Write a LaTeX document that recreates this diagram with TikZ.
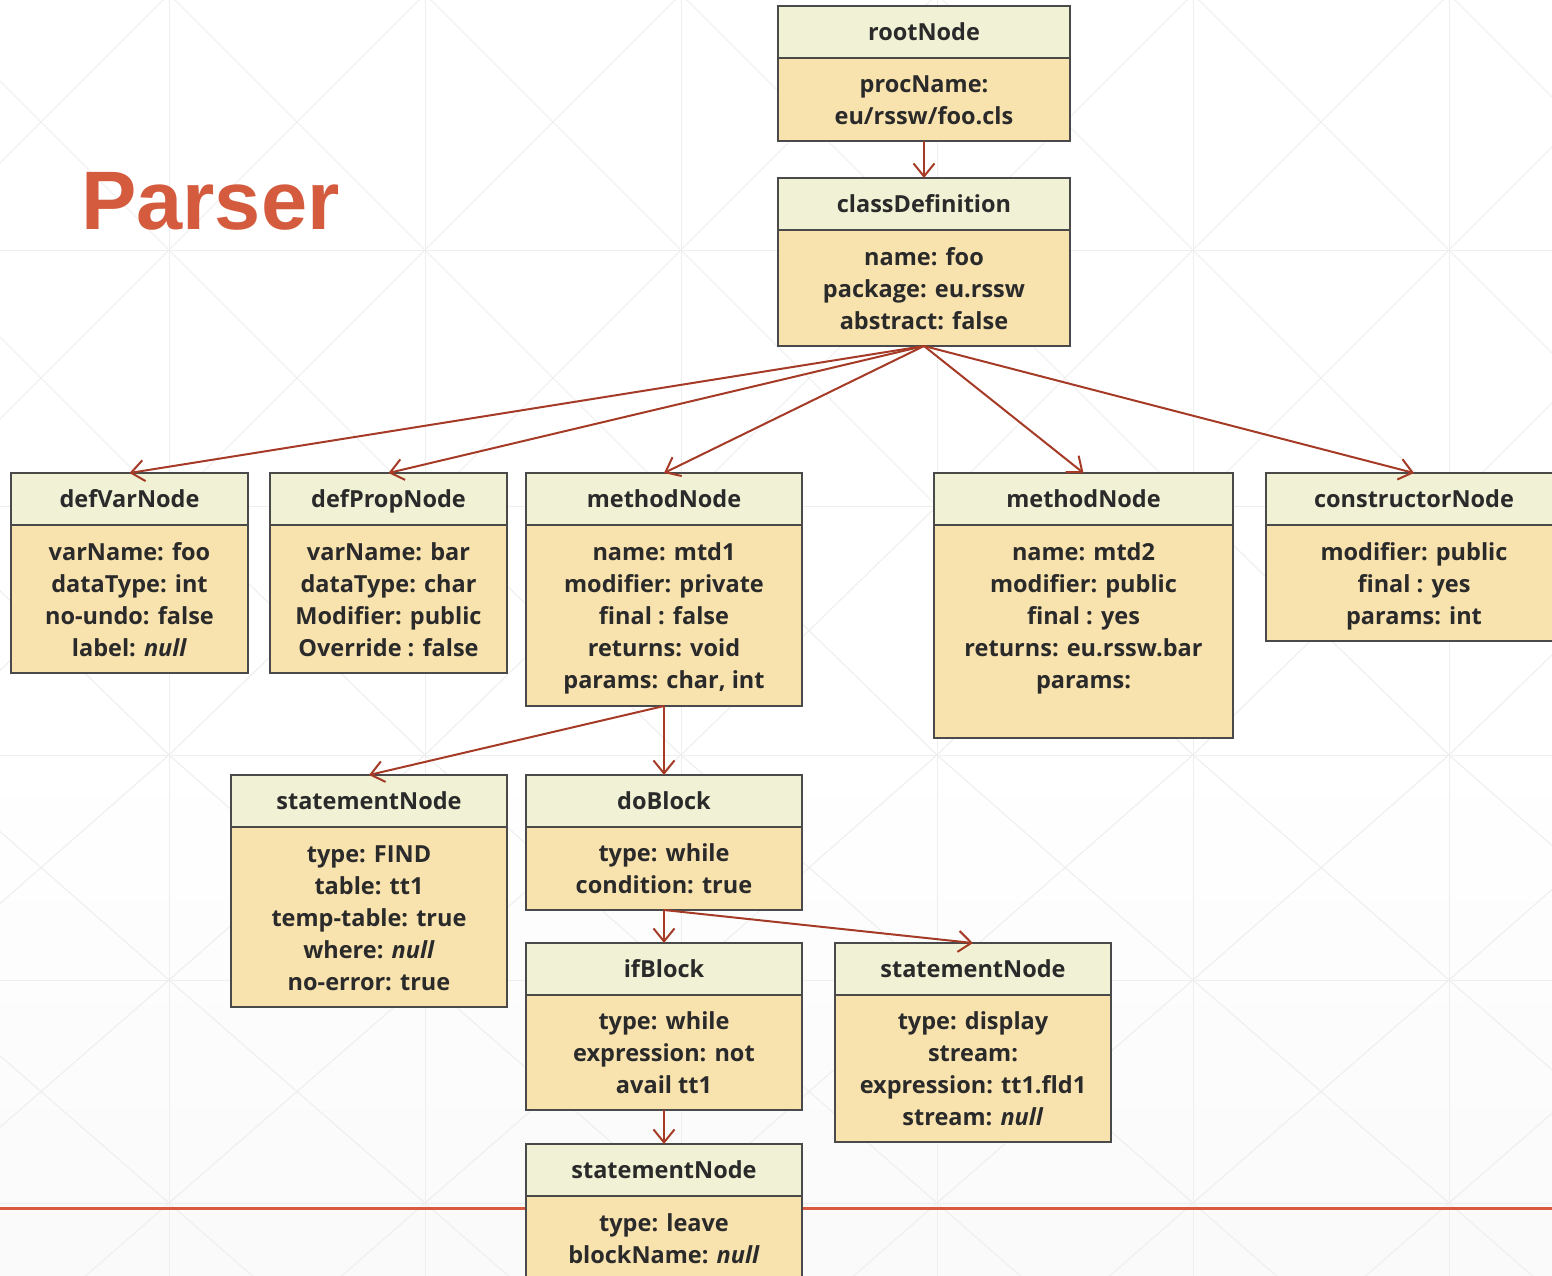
\documentclass[tikz,border=0pt]{standalone}
\usepackage{fontspec}
\setmainfont{Open Sans}
\newfontfamily\titlefamily{Liberation Sans}
\usetikzlibrary{arrows.meta}
\definecolor{hdrfill}{HTML}{F1F2D5}
\definecolor{bodyfill}{HTML}{F8E2AE}
\definecolor{boxline}{HTML}{4A4A4A}
\definecolor{arrowcol}{HTML}{A53B27}
\definecolor{titlecol}{HTML}{D45B3E}
\definecolor{redline}{HTML}{DA5A3F}
\definecolor{gridcol}{HTML}{EEEEEE}
\definecolor{txtcol}{HTML}{2A2A2A}
\newcommand\hdrstrut{\rule[-7.6pt]{0pt}{32pt}}
\newcommand\btext[1]{\raisebox{-3pt}[\height][\depth]{\begin{tabular}{@{}c@{}}#1\end{tabular}}}
\tikzset{
  boxbase/.style={draw=boxline, line width=1.4pt, inner sep=0pt, outer sep=0pt,
    anchor=north west, text=txtcol,
    font=\fontsize{23.5}{32}\selectfont\bfseries},
  hdr/.style={boxbase, fill=hdrfill, minimum height=52pt,
    execute at begin node=\hdrstrut, execute at end node=\hdrstrut},
  body/.style={boxbase, fill=bodyfill},
  conn/.style={draw=arrowcol, line width=2pt,
    -{Straight Barb[length=13pt,width=21pt,line width=2pt]}},
  gridline/.style={draw=gridcol, line width=1pt},
}
\begin{document}
\begin{tikzpicture}[x=1pt,y=-1pt]
\useasboundingbox (0,0) rectangle (1552,1275);
\clip (0,0) rectangle (1552,1275);
% background
\fill[white] (0,0) rectangle (1552,1275);
\fill[top color=white, bottom color=gray!4] (0,745) rectangle (1552,1275);
\foreach \ya/\yb in {-6/250, 250/506, 506/755, 755/980, 980/1203, 1203/1427} {
  \foreach \xa in {-87,169,425,681,937,1193,1449} {
    \pgfmathsetmacro\xb{\xa+256}
    \draw[gridline] (\xa,\ya) rectangle (\xb,\yb);
    \draw[gridline] (\xa,\ya) -- (\xb,\yb);
    \draw[gridline] (\xa,\yb) -- (\xb,\ya);
  }
}
% title
\node[anchor=base west, inner sep=0pt, text=titlecol,
  font=\titlefamily\fontsize{83}{90}\selectfont\bfseries] (title) at (81,229) {Parser};
% red line
\coordinate (rl0) at (0,1208);
\coordinate (rl1) at (1552,1208);
\draw[redline, line width=3pt] (rl0) -- (rl1);

% rootNode
\node[hdr, minimum width=292pt] (root) at (778,6) {rootNode};
\node[body, minimum width=292pt, minimum height=83pt] (rootB) at (root.south west) {\btext{procName:\\eu/rssw/foo.cls}};
% classDefinition
\node[hdr, minimum width=292pt] (cls) at (778,178) {classDefinition};
\node[body, minimum width=292pt, minimum height=116pt] (clsB) at (cls.south west) {\btext{name: foo\\package: eu.rssw\\abstract: false}};
% defVarNode
\node[hdr, minimum width=237pt] (dv) at (11,473) {defVarNode};
\node[body, minimum width=237pt, minimum height=148pt] (dvB) at (dv.south west) {\btext{varName: foo\\dataType: int\\no-undo: false\\label: \textit{null}}};
% defPropNode
\node[hdr, minimum width=237pt] (dp) at (270,473) {defPropNode};
\node[body, minimum width=237pt, minimum height=148pt] (dpB) at (dp.south west) {\btext{varName: bar\\dataType: char\\Modifier: public\\Override : false}};
% methodNode 1
\node[hdr, minimum width=276pt] (mA) at (526,473) {methodNode};
\node[body, minimum width=276pt, minimum height=181pt] (mAB) at (mA.south west) {\btext{name: mtd1\\modifier: private\\final : false\\returns: void\\params: char, int}};
% methodNode 2
\node[hdr, minimum width=299pt] (mB) at (934,473) {methodNode};
\node[body, minimum width=299pt, minimum height=213pt] (mBB) at (mB.south west) {\btext{name: mtd2\\modifier: public\\final : yes\\returns: eu.rssw.bar\\params:\\\mbox{}}};
% constructorNode
\node[hdr, minimum width=296pt] (ctor) at (1266,473) {constructorNode};
\node[body, minimum width=296pt, minimum height=116pt] (ctorB) at (ctor.south west) {\btext{modifier: public\\final : yes\\params: int}};
% statementNode FIND
\node[hdr, minimum width=276pt] (sf) at (231,775) {statementNode};
\node[body, minimum width=276pt, minimum height=180pt] (sfB) at (sf.south west) {\btext{type: FIND\\table: tt1\\temp-table: true\\where: \textit{null}\\no-error: true}};
% doBlock
\node[hdr, minimum width=276pt] (db) at (526,775) {doBlock};
\node[body, minimum width=276pt, minimum height=83pt] (dbB) at (db.south west) {\btext{type: while\\condition: true}};
% ifBlock
\node[hdr, minimum width=276pt] (ib) at (526,943) {ifBlock};
\node[body, minimum width=276pt, minimum height=115pt] (ibB) at (ib.south west) {\btext{type: while\\expression: not\\avail tt1}};
% statementNode display
\node[hdr, minimum width=276pt] (sd) at (835,943) {statementNode};
\node[body, minimum width=276pt, minimum height=147pt] (sdB) at (sd.south west) {\btext{type: display\\stream:\\expression: tt1.fld1\\stream: \textit{null}}};
% statementNode leave
\node[hdr, minimum width=276pt] (sl) at (526,1144) {statementNode};
\node[body, minimum width=276pt, minimum height=84pt] (slB) at (sl.south west) {\btext{type: leave\\blockName: \textit{null}}};

% connectors
\draw[conn] (rootB.south) -- (cls.north);
\draw[conn] (clsB.south) -- (dv.north);
\draw[conn] (clsB.south) -- (dp.north);
\draw[conn] (clsB.south) -- (mA.north);
\draw[conn] (clsB.south) -- (mB.north);
\draw[conn] (clsB.south) -- (ctor.north);
\draw[conn] (mAB.south) -- (sf.north);
\draw[conn] (mAB.south) -- (db.north);
\draw[conn] (dbB.south) -- (ib.north);
\draw[conn] (dbB.south) -- (sd.north);
\draw[conn] (ibB.south) -- (sl.north);
\end{tikzpicture}
\end{document}
